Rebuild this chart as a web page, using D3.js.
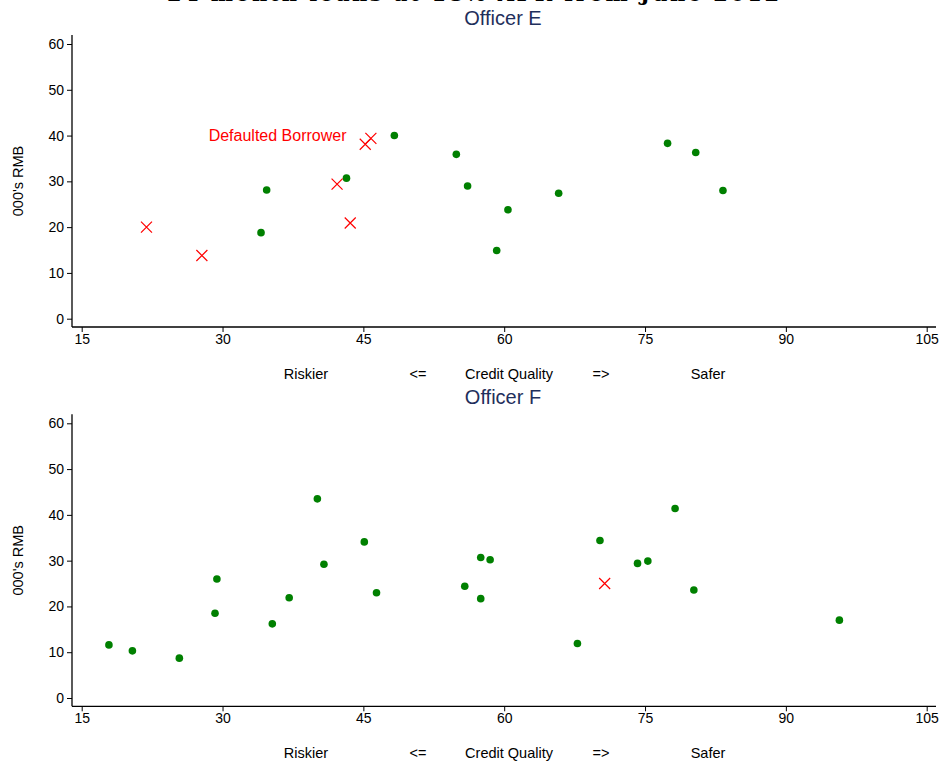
<!DOCTYPE html>
<html>
<head>
<meta charset="utf-8">
<script src="https://cdn.jsdelivr.net/npm/d3@7"></script>
<style>
  body { margin: 0; background: #fff; }
  svg { display: block; font-family: "Liberation Sans", Arial, sans-serif; }
</style>
</head>
<body>
<div id="chart"></div>
<script>
// --- Data (credit quality score, loan size in 000's RMB) ---
const officerE_repaid = [
  [34.7, 28.1], [34.1, 18.8], [43.2, 30.7], [48.3, 40.0], [54.9, 35.9],
  [56.1, 29.0], [59.2, 14.9], [60.4, 23.8], [65.8, 27.4], [77.4, 38.3],
  [80.4, 36.3], [83.3, 28.0]
];
const officerE_default = [
  [21.9, 20.0], [27.8, 13.8], [42.2, 29.4], [43.6, 20.9], [45.2, 38.1], [45.8, 39.4]
];
const officerF_repaid = [
  [17.9, 11.6], [20.4, 10.3], [25.4, 8.7], [29.2, 18.5], [29.4, 26.0],
  [35.3, 16.2], [37.1, 21.9], [40.1, 43.5], [40.8, 29.2], [45.1, 34.1],
  [46.4, 23.0], [55.8, 24.4], [57.5, 30.7], [57.5, 21.7], [58.5, 30.2],
  [67.8, 11.9], [70.2, 34.4], [74.2, 29.4], [75.3, 29.9], [78.2, 41.4],
  [80.2, 23.6], [95.7, 17.0]
];
const officerF_default = [
  [70.7, 25.0]
];
const xTicks = [15, 30, 45, 60, 75, 90, 105];
const yTicks = [0, 10, 20, 30, 40, 50, 60];
const xTitleWords = ["Riskier", "<=", "Credit Quality", "=>", "Safer"];
const xTitleCenters = [306, 418, 509, 601, 708]; // pixel centres of the axis title pieces

const panels = [
  { title: "Officer E", repaid: officerE_repaid, defaulted: officerE_default, label: true },
  { title: "Officer F", repaid: officerF_repaid, defaulted: officerF_default, label: false }
];

const width = 942, height = 761;
const svg = d3.select("#chart").append("svg")
  .attr("width", width).attr("height", height);

// overall title, mostly cut off at the top edge (as in the original)
svg.append("text")
  .attr("x", 473).attr("y", 1)
  .attr("text-anchor", "middle")
  .attr("font-family", "'DejaVu Serif', 'Liberation Serif', serif")
  .attr("font-weight", "bold")
  .attr("font-size", "21px")
  .attr("textLength", 612)
  .attr("lengthAdjust", "spacing")
  .attr("fill", "#000")
  .text("24 month loans at 18% APR from June 2012");

const x = d3.scaleLinear().domain([15, 105]).range([81.7, 926.7]);
const panelH = 379.3;

panels.forEach((p, i) => {
  const top = i * panelH;
  const y = d3.scaleLinear().domain([0, 60]).range([318.7, 44]);
  const g = svg.append("g").attr("transform", `translate(0,${top})`);

  g.append("text")
    .attr("x", 503).attr("y", 25)
    .attr("text-anchor", "middle")
    .attr("font-size", "20px")
    .attr("fill", "#1f2f5c")
    .text(p.title);

  // y axis
  const yAxis = g.append("g")
    .attr("transform", "translate(72,0)")
    .call(d3.axisLeft(y).tickValues(yTicks).tickSize(5).tickPadding(3));
  yAxis.select(".domain").attr("d", "M0,35V327");
  // x axis
  const xAxis = g.append("g")
    .attr("transform", "translate(0,327)")
    .call(d3.axisBottom(x).tickValues(xTicks).tickSize(5).tickPadding(2));
  xAxis.select(".domain").attr("d", "M72,0H936");

  g.selectAll(".domain").attr("stroke", "#000").attr("stroke-width", 1.3);
  g.selectAll(".tick line").attr("stroke", "#000");
  g.selectAll(".tick text")
    .attr("font-family", "'Liberation Sans', Arial, sans-serif")
    .attr("font-size", "14px").attr("fill", "#000");

  // y axis title
  g.append("text")
    .attr("transform", "translate(23,181) rotate(-90)")
    .attr("text-anchor", "middle")
    .attr("font-size", "14.5px")
    .text("000's RMB");

  // x axis title pieces
  g.selectAll(".xt").data(xTitleWords).enter().append("text")
    .attr("x", (d, j) => xTitleCenters[j])
    .attr("y", 379)
    .attr("text-anchor", "middle")
    .attr("font-size", "14.5px")
    .text(d => d);

  // repaid borrowers
  g.selectAll(".dot").data(p.repaid).enter().append("circle")
    .attr("cx", d => x(d[0]))
    .attr("cy", d => y(d[1]))
    .attr("r", 3.8)
    .attr("fill", "#008000");

  // defaulted borrowers
  const s = 5.5;
  g.selectAll(".cross").data(p.defaulted).enter().append("path")
    .attr("d", d => {
      const cx = x(d[0]), cy = y(d[1]);
      return `M${cx - s},${cy - s}L${cx + s},${cy + s}M${cx - s},${cy + s}L${cx + s},${cy - s}`;
    })
    .attr("stroke", "#ff0000")
    .attr("stroke-width", 1.2)
    .attr("fill", "none");

  if (p.label) {
    g.append("text")
      .attr("x", 346.5).attr("y", 141)
      .attr("text-anchor", "end")
      .attr("font-size", "16px")
      .attr("fill", "#ff0000")
      .text("Defaulted Borrower");
  }
});
</script>
</body>
</html>
